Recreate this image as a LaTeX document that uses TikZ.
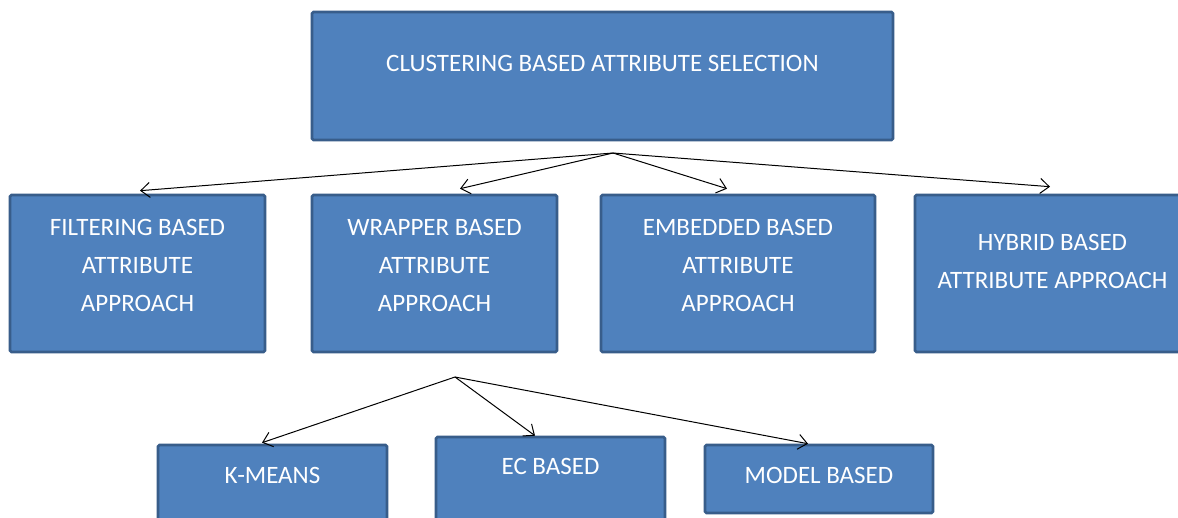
\documentclass[tikz,border=0pt]{standalone}
\usepackage{fontspec}
\setmainfont{Carlito}
\usetikzlibrary{arrows.meta}
\definecolor{boxfill}{HTML}{4F81BD}
\definecolor{boxline}{HTML}{385D8A}
\tikzset{
  box/.style={draw=boxline, line width=2.6pt, rounded corners=1.5pt, fill=boxfill, text=white, align=center, inner sep=0pt, font=\fontsize{25}{38}\selectfont},
  arrow/.style={-{Straight Barb[length=9pt,width=15pt]}, line width=1pt, draw=black}
}

\begin{document}
\begin{tikzpicture}[x=1pt,y=-1pt]
\useasboundingbox (0,0) rectangle (1178,517);
\clip (0,0) rectangle (1178,517);
\fill[white] (0,0) rectangle (1178,517);
% top level
\node[box, minimum width=581pt, minimum height=128pt, text height=16pt, text depth=26pt] (top) at (602.5,76) {CLUSTERING BASED ATTRIBUTE SELECTION};
\coordinate (topsplit) at (613,153);
% four approaches
\node[box, minimum width=255pt, minimum height=157pt, text height=92pt, text depth=17pt] (filt) at (137.5,273.5) {FILTERING BASED\\ATTRIBUTE\\APPROACH};
\node[box, minimum width=245pt, minimum height=157pt, text height=92pt, text depth=17pt] (wrap) at (434.5,273.5) {WRAPPER BASED\\ATTRIBUTE\\APPROACH};
\node[box, minimum width=274pt, minimum height=157pt, text height=92pt, text depth=17pt] (emb) at (738,273.5) {EMBEDDED BASED\\ATTRIBUTE\\APPROACH};
\node[box, minimum width=275pt, minimum height=157pt, text height=54pt, text depth=25pt] (hyb) at (1052.5,273.5) {HYBRID BASED\\ATTRIBUTE APPROACH};
\draw[arrow] (topsplit) -- ([xshift=2.5pt,yshift=3pt]filt.north);
\draw[arrow] (topsplit) -- ([xshift=25.5pt,yshift=5pt]wrap.north);
\draw[arrow] (topsplit) -- ([xshift=-11pt,yshift=5pt]emb.north);
\draw[arrow] (topsplit) -- ([xshift=-2.5pt,yshift=7pt]hyb.north);
% wrapper methods (first two run off the bottom)
\coordinate (wrapsplit) at (455,377);
\node[box, minimum width=229pt, minimum height=90pt, text height=16pt, text depth=30pt] (kmeans) at (272.5,490) {K-MEANS};
\node[box, minimum width=229pt, minimum height=100pt, text height=16pt, text depth=42pt] (ec) at (550.5,487) {EC BASED};
\node[box, minimum width=228pt, minimum height=68pt, text height=16pt, text depth=8pt] (model) at (819,479) {MODEL BASED};
\draw[arrow] (wrapsplit) -- ([xshift=-10.5pt,yshift=1pt]kmeans.north);
\draw[arrow] (wrapsplit) -- ([xshift=-15.5pt,yshift=0pt]ec.north);
\draw[arrow] (wrapsplit) -- ([xshift=-11pt,yshift=0pt]model.north);
\end{tikzpicture}
\end{document}
